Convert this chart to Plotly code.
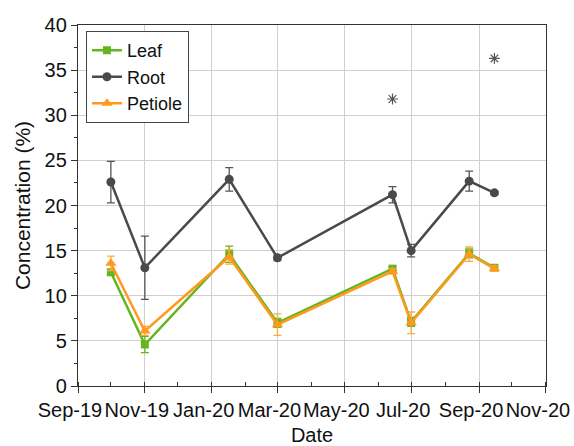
import plotly.graph_objects as go

# Sampling dates
dates = ["2019-10-01", "2019-11-01", "2020-01-17", "2020-03-01",
         "2020-06-14", "2020-07-01", "2020-08-23", "2020-09-15"]

# Mean concentration (%) and standard deviation per tissue
leaf = [12.6, 4.6, 14.6, 7.0, 13.0, 7.1, 14.7, 13.1]
leaf_err = [0.3, 0.9, 0.9, 0.5, 0.2, 0.5, 0.5, 0.2]

root = [22.6, 13.1, 22.9, 14.2, 21.2, 15.0, 22.7, 21.4]
root_err = [2.3, 3.5, 1.3, 0.3, 0.9, 0.7, 1.1, 0.2]

petiole = [13.6, 6.1, 14.3, 6.8, 12.7, 7.0, 14.6, 13.0]
petiole_err = [0.8, 0.5, 0.8, 1.2, 0.3, 1.2, 0.8, 0.3]

# Significance markers
sig_dates = ["2020-06-14", "2020-09-15"]
sig_values = [31.8, 36.3]

GREEN = "#66b51f"
GRAY = "#4a4a4a"
ORANGE = "#ff9a1f"
FONT = "Liberation Sans, Arial, sans-serif"

fig = go.Figure()

fig.add_trace(go.Scatter(
    x=dates, y=leaf, name="Leaf", mode="lines+markers",
    line=dict(color=GREEN, width=2.5),
    marker=dict(symbol="square", size=8, color=GREEN),
    error_y=dict(type="data", array=leaf_err, color=GREEN, thickness=1.3, width=4),
))
fig.add_trace(go.Scatter(
    x=dates, y=root, name="Root", mode="lines+markers",
    line=dict(color=GRAY, width=2.5),
    marker=dict(symbol="circle", size=9, color=GRAY),
    error_y=dict(type="data", array=root_err, color="#555555", thickness=1.3, width=4),
))
fig.add_trace(go.Scatter(
    x=dates, y=petiole, name="Petiole", mode="lines+markers",
    line=dict(color=ORANGE, width=2.5),
    marker=dict(symbol="triangle-up", size=10, color=ORANGE),
    error_y=dict(type="data", array=petiole_err, color="#ffa940", thickness=1.3, width=4),
))
fig.add_trace(go.Scatter(
    x=sig_dates, y=sig_values, mode="markers", showlegend=False,
    marker=dict(symbol="asterisk-open", size=9, color="#555555",
                line=dict(color="#555555", width=1.2)),
))

fig.update_layout(
    width=574, height=446,
    margin=dict(l=78, r=28, t=25, b=60),
    paper_bgcolor="white", plot_bgcolor="white",
    font=dict(family=FONT, size=20, color="#111111"),
    legend=dict(
        x=0.017, y=0.983, xanchor="left", yanchor="top",
        bordercolor="#444444", borderwidth=1, bgcolor="white",
        font=dict(size=18), tracegroupgap=0, itemwidth=30,
    ),
)

fig.update_xaxes(
    type="date", range=["2019-09-01", "2020-11-01 02:00"],
    tick0="2019-09-01", dtick="M2", tickformat="%b-%y", tickangle=0,
    ticklabeloverflow="allow", ticklabelshift=-8,
    ticks="outside", ticklen=6, tickcolor="#333333",
    showgrid=True, gridcolor="#d0d0d0", gridwidth=1,
    showline=True, linecolor="#333333", linewidth=1.3, mirror=True,
    minor=dict(dtick="M1", ticks="inside", ticklen=4, tickcolor="#333333", showgrid=False),
    title=dict(text="Date", standoff=13, font=dict(size=20)),
    zeroline=False, automargin=False,
)
fig.update_yaxes(
    range=[0, 40], dtick=5,
    ticks="outside", ticklen=6, tickcolor="#333333",
    showgrid=True, gridcolor="#d0d0d0", gridwidth=1,
    showline=True, linecolor="#333333", linewidth=1.3, mirror=True,
    minor=dict(dtick=2.5, ticks="outside", ticklen=3, tickcolor="#333333", showgrid=False),
    title=dict(text="Concentration (%)", standoff=8, font=dict(size=21)),
    zeroline=False, automargin=False,
)

fig.write_html("out.html")
